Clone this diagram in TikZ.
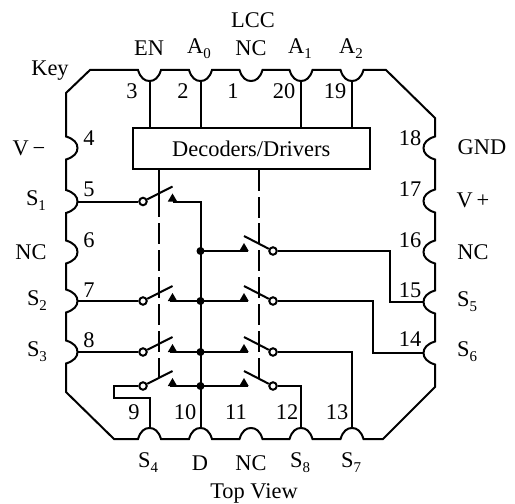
\documentclass[tikz,border=0pt]{standalone}
\usepackage{fontspec}
\setmainfont{Liberation Serif}
\newcommand{\pinsub}[1]{\raisebox{-0.22em}{\fontsize{15}{16}\selectfont #1}}
\tikzset{
  wire/.style={line width=2bp,line join=miter},
  txt/.style={inner sep=0pt,font=\fontsize{22.5}{25}\selectfont},
  num/.style={inner sep=0pt,font=\fontsize{22.5}{25}\selectfont},
  ctl/.style={line width=2bp},
  ctlleft/.style={ctl,dash pattern=on 48bp off 6bp on 21bp off 6bp on 21bp off 6bp on 21bp off 6bp on 21bp off 6bp on 21bp off 6bp on 30bp off 6bp},
  ctlright/.style={ctl,dash pattern=on 22bp off 6bp on 21bp off 5bp on 21bp off 6bp on 21bp off 6bp on 21bp off 6bp on 21bp off 6bp on 21bp off 6bp on 30bp off 6bp},
  dot/.style={circle,fill=black,inner sep=0pt,minimum size=8bp},
  open/.style={circle,draw=black,fill=white,line width=2bp,inner sep=0pt,minimum size=7.5bp},
  box/.style={draw,line width=2bp,inner sep=0pt,minimum width=237.5bp,minimum height=40.5bp,font=\fontsize{22.5}{25}\selectfont}
}
\newcommand{\nT}[1]{-- ({#1-11.5},70) .. controls ({#1-9},78) and ({#1-5},81) .. (#1,81) .. controls ({#1+5},81) and ({#1+9},78) .. ({#1+11.5},70)}
\newcommand{\nB}[1]{-- ({#1+11.5},439) .. controls ({#1+9},431) and ({#1+5},428) .. (#1,428) .. controls ({#1-5},428) and ({#1-9},431) .. ({#1-11.5},439)}
\newcommand{\nL}[1]{-- (66,{#1+11.5}) .. controls (74,{#1+9}) and (77.5,{#1+5}) .. (77.5,#1) .. controls (77.5,{#1-5}) and (74,{#1-9}) .. (66,{#1-11.5})}
\newcommand{\nR}[1]{-- (435,{#1-11.5}) .. controls (427,{#1-9}) and (423.5,{#1-5}) .. (423.5,#1) .. controls (423.5,{#1+5}) and (427,{#1+9}) .. (435,{#1+11.5})}
\begin{document}
\begin{tikzpicture}[x=1bp,y=-1bp]
\useasboundingbox (0,0) rectangle (515,504);
% package outline
\draw[wire] (90,70) \nT{149.5} \nT{200.5} \nT{251} \nT{301} \nT{352} -- (386,70) -- (435,118)
  \nR{148} \nR{201} \nR{252} \nR{302} \nR{353} -- (435,387) -- (383,439)
  \nB{352} \nB{301} \nB{251} \nB{200.5} \nB{149.5} -- (114,439) -- (66,392)
  \nL{352} \nL{301} \nL{252} \nL{201.5} \nL{148} -- (66,93) -- cycle;
% decoder
\node[box] (dec) at (251.25,148.75) {Decoders/Drivers};
% pin coordinates
\coordinate (p3) at (149.5,81); \coordinate (p2) at (200.5,81);
\coordinate (p20) at (301,81); \coordinate (p19) at (352,81);
\coordinate (p5) at (77.5,201.5); \coordinate (p7) at (77.5,301); \coordinate (p8) at (77.5,352);
\coordinate (p9) at (149.5,428); \coordinate (p10) at (200.5,428);
\coordinate (p12) at (301,428); \coordinate (p13) at (352,428);
\coordinate (p14) at (423.5,353); \coordinate (p15) at (423.5,302);
\draw[wire] (p3) -- (p3 |- dec.north);
\draw[wire] (p2) -- (p2 |- dec.north);
\draw[wire] (p20) -- (p20 |- dec.north);
\draw[wire] (p19) -- (p19 |- dec.north);
% control dashes
\coordinate (cla) at (158.5,169); \coordinate (clb) at (158.5,378);
\coordinate (cra) at (258.5,169); \coordinate (crb) at (258.5,378);
\draw[ctlleft] (cla) -- (clb);
\draw[ctlright] (cra) -- (crb);
% left switches
\foreach \n/\y in {a/201.5,b/301,c/352,d/386}{
  \coordinate (lb\n) at (172.5,\y-15);
  \coordinate (lt\n) at (172.5,\y);
  \node[open] (lo\n) at (143,\y) {};
  \draw[wire] (lo\n) -- (lb\n);
  \fill ([xshift=-4.7bp]lt\n) -- ([yshift=8bp]lt\n) -- ([xshift=4.7bp]lt\n) -- cycle;
}
% right switches
\foreach \n/\y in {a/251,b/301,c/352,d/386}{
  \coordinate (rb\n) at (244,\y-15);
  \coordinate (rt\n) at (244,\y);
  \node[open] (ro\n) at (273,\y) {};
  \draw[wire] (ro\n) -- (rb\n);
  \fill ([xshift=-4.7bp]rt\n) -- ([yshift=8bp]rt\n) -- ([xshift=4.7bp]rt\n) -- cycle;
}
% common dots
\node[dot] (da) at (200.5,251) {};
\node[dot] (db) at (200.5,301) {};
\node[dot] (dc) at (200.5,352) {};
\node[dot] (dd) at (200.5,386) {};
% common wires
\draw[wire] (lta) -| (da.center) -- (db.center) -- (dc.center) -- (dd.center) -- (p10);
\draw[wire] ([xshift=-3bp]ltb) -- ([xshift=4bp]rtb);
\draw[wire] ([xshift=-3bp]ltc) -- ([xshift=4bp]rtc);
\draw[wire] ([xshift=-3bp]ltd) -- ([xshift=4bp]rtd);
\draw[wire] (da.center) -- ([xshift=4bp]rta);
% signal wires
\draw[wire] (p5) -- (loa);
\draw[wire] (p7) -- (lob);
\draw[wire] (p8) -- (loc);
\coordinate (s4a) at (114,386); \coordinate (s4b) at (114,398); \coordinate (s4c) at (149.5,398);
\draw[wire] (lod) -- (s4a) -- (s4b) -- (s4c) -- (p9);
\coordinate (s5a) at (389.5,251); \coordinate (s5b) at (389.5,302);
\draw[wire] (roa) -- (s5a) -- (s5b) -- (p15);
\coordinate (s6a) at (373,301); \coordinate (s6b) at (373,353);
\draw[wire] (rob) -- (s6a) -- (s6b) -- (p14);
\draw[wire] (roc) -| (p13);
\draw[wire] (rod) -| (p12);
% labels
\node[txt] (lcc) at (253,20) {LCC};
\node[txt] (l1) at (149,48) {EN};
\node[txt] (l2) at (199,49) {A\pinsub{0}};
\node[txt] (l3) at (251,48) {NC};
\node[txt] (l4) at (300,49) {A\pinsub{1}};
\node[txt] (l5) at (351,49) {A\pinsub{2}};
\node[txt] (key) at (50,71) {Key};
\node[txt] (l6) at (29,148) {V\,−};
\node[txt] (l7) at (36,201) {S\pinsub{1}};
\node[txt] (l8) at (31,252) {NC};
\node[txt] (l9) at (37,301) {S\pinsub{2}};
\node[txt] (l10) at (37,352) {S\pinsub{3}};
\node[txt] (l11) at (482,147) {GND};
\node[txt] (l12) at (473,200) {V\,+};
\node[txt] (l13) at (473,252) {NC};
\node[txt] (l14) at (467,302) {S\pinsub{5}};
\node[txt] (l15) at (467,352) {S\pinsub{6}};
\node[txt] (l16) at (148,463) {S\pinsub{4}};
\node[txt] (l17) at (200,463) {D};
\node[txt] (l18) at (251,463) {NC};
\node[txt] (l19) at (300,463) {S\pinsub{8}};
\node[txt] (l20) at (351,463) {S\pinsub{7}};
\node[txt] (top) at (254,493) {Top View};
\foreach \t/\x/\y in {3/132/91,2/183/91,1/233/91,20/284/91,19/335/91,4/89/138,5/89/189,6/89/240,7/89/290,8/89/340,9/134/412,10/185/412,11/236/412,12/287/412,13/337/412,14/410/339,15/410/290,16/410/240,17/410/189,18/410/138}{
  \node[num] (n\t) at (\x,\y) {\t};
}
\end{tikzpicture}
\end{document}
